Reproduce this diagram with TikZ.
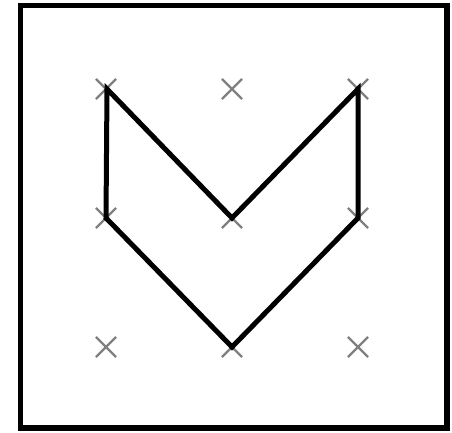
\documentclass[tikz,border=0pt]{standalone}
\usetikzlibrary{shapes.misc}
\begin{document}
\begin{tikzpicture}[x=1pt,y=1pt,
  xmark/.style={cross out, draw=black!50, line width=2.2pt, minimum size=18pt, inner sep=0pt},
  frame/.style={draw=black, line width=5.5pt},
  outline/.style={draw=black, line width=5pt, line join=miter}]
\useasboundingbox (0,0) rectangle (452,433);
\draw[frame] (20.5,5) rectangle (447,427.5);
\node[xmark] (a1) at (106,344) {};
\node[xmark] (a2) at (232,344) {};
\node[xmark] (a3) at (358,344) {};
\node[xmark] (b1) at (106,215) {};
\node[xmark] (b2) at (232,215) {};
\node[xmark] (b3) at (358,215) {};
\node[xmark] (c1) at (106,86) {};
\node[xmark] (c2) at (232,86) {};
\node[xmark] (c3) at (358,86) {};
\draw[outline] ([xshift=1pt]a1.center) -- (b2.center) -- (a3.center) -- (b3.center) -- (c2.center) -- (b1.center) -- cycle;
\end{tikzpicture}
\end{document}
